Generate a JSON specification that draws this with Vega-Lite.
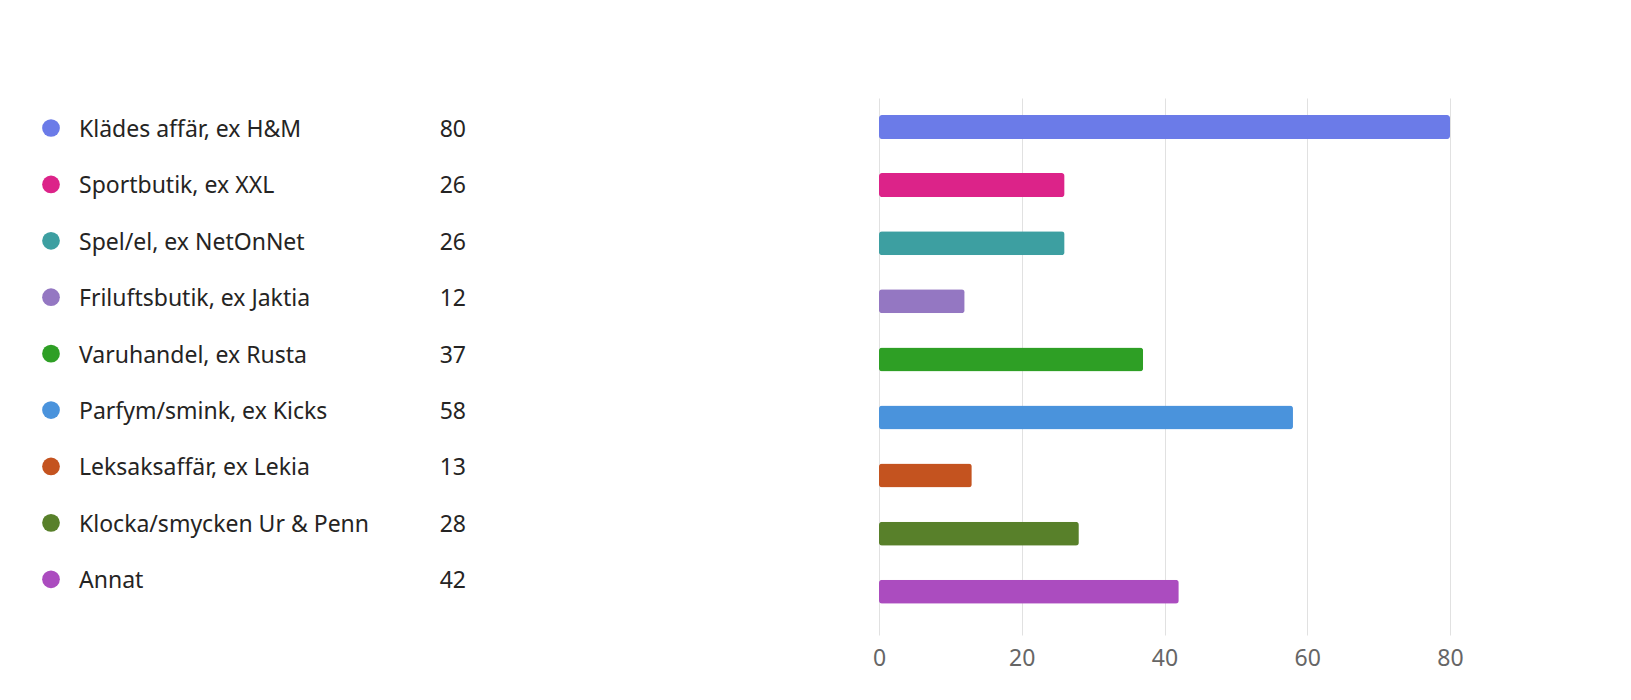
{
  "$schema": "https://vega.github.io/schema/vega-lite/v6.json",
  "padding": {"left": 42, "top": 98, "right": 10, "bottom": 10},
  "background": "white",
  "config": {
    "view": {"stroke": null},
    "font": "Noto Sans",
    "concat": {"spacing": 406}
  },
  "data": {
    "values": [
      {"butik": "Klädes affär, ex H&M", "antal": 80, "farg": "#6b7be8"},
      {"butik": "Sportbutik, ex XXL", "antal": 26, "farg": "#dc2389"},
      {"butik": "Spel/el, ex NetOnNet", "antal": 26, "farg": "#3d9fa1"},
      {"butik": "Friluftsbutik, ex Jaktia", "antal": 12, "farg": "#9477c2"},
      {"butik": "Varuhandel, ex Rusta", "antal": 37, "farg": "#2e9f25"},
      {"butik": "Parfym/smink, ex Kicks", "antal": 58, "farg": "#4a93dc"},
      {"butik": "Leksaksaffär, ex Lekia", "antal": 13, "farg": "#c4531f"},
      {"butik": "Klocka/smycken Ur & Penn", "antal": 28, "farg": "#58802a"},
      {"butik": "Annat", "antal": 42, "farg": "#ab4cbf"}
    ]
  },
  "hconcat": [
    {
      "width": 415,
      "height": 537,
      "encoding": {
        "y": {
          "field": "butik",
          "type": "nominal",
          "sort": null,
          "axis": null,
          "scale": {"type": "point", "padding": 0.76, "align": 0.35}
        }
      },
      "layer": [
        {
          "mark": {"type": "circle", "size": 314, "opacity": 1},
          "encoding": {
            "x": {"datum": 0, "type": "quantitative", "scale": {"domain": [0, 1]}, "axis": null},
            "color": {"field": "farg", "type": "nominal", "scale": null}
          }
        },
        {
          "mark": {"type": "text", "align": "left", "baseline": "middle", "dx": 28, "dy": 2, "fontSize": 23, "color": "#252423"},
          "encoding": {
            "x": {"datum": 0, "type": "quantitative"},
            "text": {"field": "butik"}
          }
        },
        {
          "mark": {"type": "text", "align": "right", "baseline": "middle", "dy": 2, "fontSize": 23, "color": "#252423"},
          "encoding": {
            "x": {"datum": 1, "type": "quantitative"},
            "text": {"field": "antal"}
          }
        }
      ]
    },
    {
      "width": 571,
      "height": 537,
      "mark": {"type": "bar", "cornerRadius": 3},
      "encoding": {
        "y": {
          "field": "butik",
          "type": "nominal",
          "sort": null,
          "axis": null,
          "scale": {"paddingInner": 0.587, "paddingOuter": 0.415, "align": 0.353}
        },
        "x": {
          "field": "antal",
          "type": "quantitative",
          "title": null,
          "scale": {"domain": [0, 80], "nice": false},
          "axis": {
            "values": [0, 20, 40, 60, 80],
            "domain": false,
            "ticks": false,
            "labelPadding": 12,
            "labelFontSize": 23,
            "labelColor": "#666666",
            "gridColor": "#e1e1e1",
            "labelFlush": false
          }
        },
        "color": {"field": "farg", "type": "nominal", "scale": null}
      }
    }
  ]
}
